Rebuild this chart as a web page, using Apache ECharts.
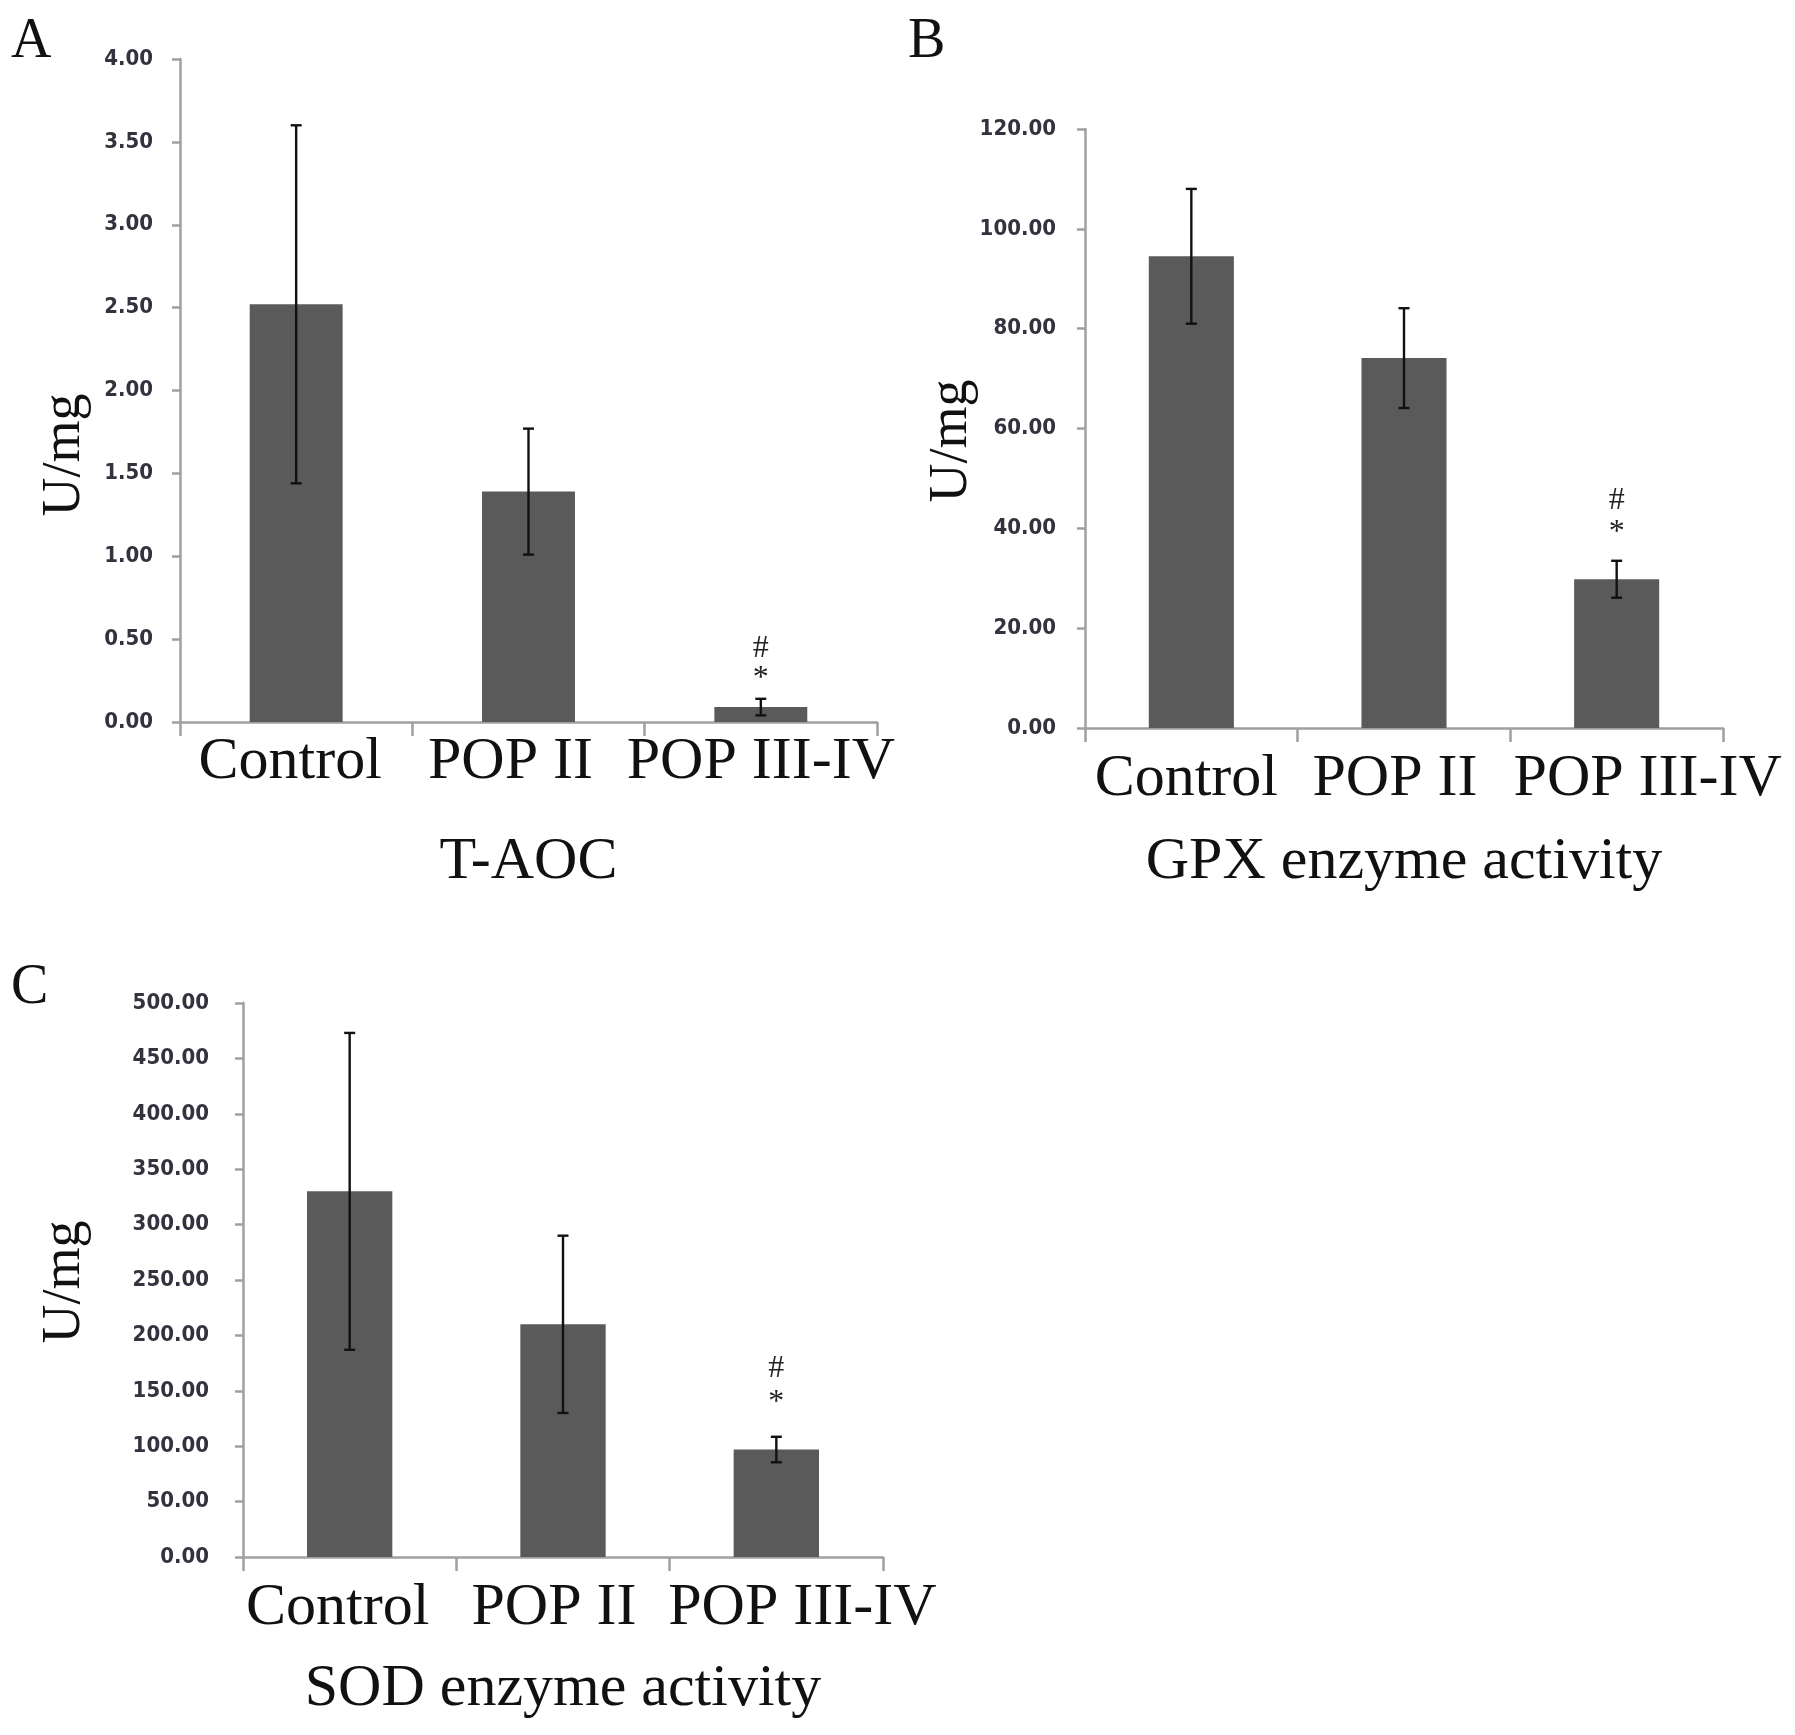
<!DOCTYPE html>
<html><head><meta charset="utf-8">
<script src="https://cdn.jsdelivr.net/npm/echarts@6/dist/echarts.min.js"></script>
<style>html,body{margin:0;padding:0;background:#fff}#c{width:1795px;height:1735px}</style>
</head><body><div id="c"></div>
<script>
const categories = ['Control', 'POP II', 'POP III-IV'];
const taocMean = [2.52, 1.39, 0.09];
const taocErr = [1.08, 0.38, 0.05];
const gpxMean = [94.5, 74.1, 29.8];
const gpxErr = [13.5, 10.0, 3.7];
const sodMean = [330, 210, 97];
const sodErr = [143, 80, 11.5];
const starMarks = ['', '', '*'];
const hashMarks = ['', '', '#'];
const panelTitles = ['T-AOC', 'GPX enzyme activity', 'SOD enzyme activity'];
const panelLetters = ['A', 'B', 'C'];
const yName = 'U/mg';

const SERIF = "'Liberation Serif', 'Times New Roman', serif";
const NARROW = "'Liberation Sans Narrow', 'DejaVu Sans Condensed', 'Roboto Condensed', sans-serif";
const AXIS = '#a0a0a0';
const BAR = '#5a5a5a';

const grids = [
  {left: 180, top: 59, width: 697, height: 663},
  {left: 1085, top: 129, width: 638, height: 599},
  {left: 243, top: 1003, width: 640, height: 554}
];
const yRanges = [[0, 4, 0.5], [0, 120, 20], [0, 500, 50]];
const labelMargins = [27, 29, 34];
const xLabelMargins = [10, 21, 21];
const nameGaps = [110, 104, 102];
// horizontal nudges (px) of category labels per panel, as in the original layout
const labelShift = [[-6, -18, 0], [-5, -9, 31], [-12, -9, 26]];
// vertical offsets (px) of "*" and "#" above the error-bar top per panel
const markOffsets = [[20, 50], [28, 60], [34, 68]];
const means = [taocMean, gpxMean, sodMean];
const errs = [taocErr, gpxErr, sodErr];

const xAxes = [], yAxes = [], series = [];
for (let i = 0; i < 3; i++) {
  const catData = categories.map((c, k) => {
    const s = labelShift[i][k];
    return {value: c, textStyle: {padding: s >= 0 ? [0, 0, 0, 2 * s] : [0, -2 * s, 0, 0]}};
  });
  xAxes.push({
    type: 'category', gridIndex: i, data: catData,
    name: panelTitles[i], nameLocation: 'middle', nameGap: nameGaps[i],
    nameTextStyle: {fontFamily: SERIF, fontSize: 60, color: '#111'},
    axisLine: {lineStyle: {color: AXIS, width: 2.5}},
    axisTick: {show: true, length: 14, lineStyle: {color: AXIS, width: 2.5}},
    axisLabel: {fontFamily: SERIF, fontSize: 60, color: '#111', margin: xLabelMargins[i], interval: 0},
    splitLine: {show: false}
  });
  yAxes.push({
    type: 'value', gridIndex: i, min: yRanges[i][0], max: yRanges[i][1], interval: yRanges[i][2],
    axisLine: {show: true, lineStyle: {color: AXIS, width: 2.5}},
    axisTick: {show: true, length: 8, lineStyle: {color: AXIS, width: 2.5}},
    axisLabel: {fontFamily: NARROW, fontSize: 22, fontWeight: 'bold', color: '#33333f', margin: labelMargins[i],
      formatter: v => v.toFixed(2)},
    splitLine: {show: false}
  });
  series.push({
    type: 'bar', xAxisIndex: i, yAxisIndex: i, data: means[i],
    barWidth: '40%', itemStyle: {color: BAR}, silent: true
  });
  const m = means[i], e = errs[i], off = markOffsets[i];
  series.push({
    type: 'custom', xAxisIndex: i, yAxisIndex: i, silent: true, z: 5,
    data: m.map((v, k) => [k, v, e[k]]),
    renderItem: function (params, api) {
      const k = api.value(0), v = api.value(1), er = api.value(2);
      const top = api.coord([k, v + er]);
      const bot = api.coord([k, v - er]);
      const cw = 5.5;
      const st = {stroke: '#111', lineWidth: 2.4};
      const children = [
        {type: 'line', shape: {x1: top[0], y1: top[1], x2: bot[0], y2: bot[1]}, style: st},
        {type: 'line', shape: {x1: top[0] - cw, y1: top[1], x2: top[0] + cw, y2: top[1]}, style: st},
        {type: 'line', shape: {x1: bot[0] - cw, y1: bot[1], x2: bot[0] + cw, y2: bot[1]}, style: st}
      ];
      if (starMarks[k]) {
        children.push({type: 'text', style: {text: starMarks[k], x: top[0], y: top[1] - off[0],
          align: 'center', verticalAlign: 'middle', font: '32px ' + SERIF, fill: '#222'}});
      }
      if (hashMarks[k]) {
        children.push({type: 'text', style: {text: hashMarks[k], x: top[0], y: top[1] - off[1],
          align: 'center', verticalAlign: 'middle', font: '32px ' + SERIF, fill: '#222'}});
      }
      return {type: 'group', children: children};
    }
  });
}

const letterPos = [[11, 14], [908, 14], [11, 960]];
const yNamePos = [[65, 455], [952, 441], [65, 1282]];
const graphics = [];
for (let i = 0; i < 3; i++) {
  graphics.push({type: 'text', left: letterPos[i][0], top: letterPos[i][1],
    style: {text: panelLetters[i], font: '56px ' + SERIF, fill: '#111'}});
  graphics.push({type: 'text', x: yNamePos[i][0], y: yNamePos[i][1], rotation: Math.PI / 2,
    style: {text: yName, font: '54px ' + SERIF, fill: '#111', align: 'center', verticalAlign: 'middle'}});
}

const chart = echarts.init(document.getElementById('c'), null, {renderer: 'canvas'});
chart.setOption({
  animation: false,
  backgroundColor: '#fff',
  grid: grids,
  xAxis: xAxes,
  yAxis: yAxes,
  series: series,
  graphic: graphics
});
</script></body></html>
